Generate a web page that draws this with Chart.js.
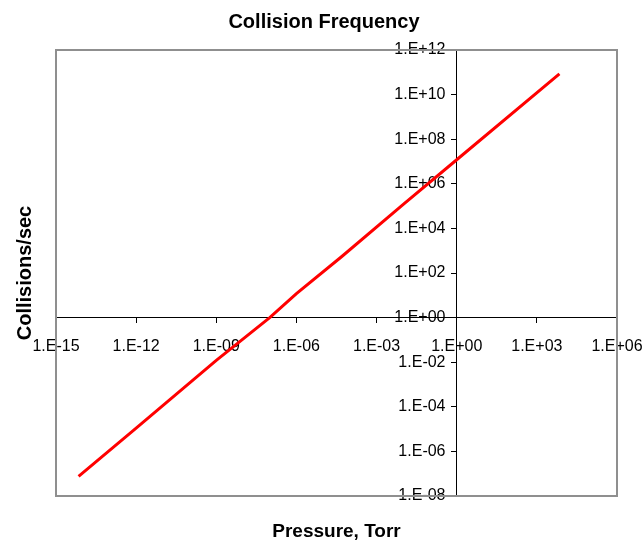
<!DOCTYPE html>
<html>
<head>
<meta charset="utf-8">
<title>Collision Frequency</title>
<script src="https://cdn.jsdelivr.net/npm/chart.js@4.4.1/dist/chart.umd.min.js"></script>
<style>
    html, body { margin: 0; padding: 0; background: #fff; }
    #wrap { width: 644px; height: 542px; position: relative; }
</style>
</head>
<body>
<div id="wrap"><canvas id="collisionChart"></canvas></div>
<script>
// values
const pressureTorr = [7e-15, 1e-12, 1e-9, 1e-7, 1e-6, 5e-5, 1e-2, 1, 7e3];
const collisionsPerSec = [7.6e-8, 1.1e-5, 1.2e-2, 1.0, 12, 5.5e2, 1.2e5, 1.2e7, 8.5e10];

const xTickValues = [1e-15, 1e-12, 1e-9, 1e-6, 1e-3, 1, 1e3, 1e6];
const xTickLabels = ["1.E-15", "1.E-12", "1.E-09", "1.E-06", "1.E-03", "1.E+00", "1.E+03", "1.E+06"];
const yTickValues = [1e-8, 1e-6, 1e-4, 1e-2, 1, 1e2, 1e4, 1e6, 1e8, 1e10, 1e12];
const yTickLabels = ["1.E-08", "1.E-06", "1.E-04", "1.E-02", "1.E+00", "1.E+02", "1.E+04", "1.E+06", "1.E+08", "1.E+10", "1.E+12"];

const chartTitle = "Collision Frequency";
const xTitle = "Pressure, Torr";
const yTitle = "Collisions/sec";

const FONT = "'Liberation Sans', Arial, sans-serif";

/**
 * Draws the grey plot frame and the chart / axis titles
 */
const frameAndTitles = {
    id: "frameAndTitles",
    beforeDatasetsDraw(chart) {
        const { ctx, chartArea: a } = chart;
        ctx.save();
        ctx.strokeStyle = "#8f8f8f";
        ctx.lineWidth = 2;
        ctx.strokeRect(a.left, a.top, a.right - a.left, a.bottom - a.top);
        ctx.restore();
    },
    afterDraw(chart) {
        const { ctx, chartArea: a } = chart;
        ctx.save();
        ctx.fillStyle = "#000";
        ctx.textAlign = "center";
        ctx.textBaseline = "middle";

        ctx.font = "bold 20px " + FONT;
        ctx.fillText(chartTitle, 324, 22);

        ctx.font = "bold 19px " + FONT;
        ctx.fillText(xTitle, (a.left + a.right) / 2, 532);

        ctx.translate(25, (a.top + a.bottom) / 2);
        ctx.rotate(-Math.PI / 2);
        ctx.font = "bold 20px " + FONT;
        ctx.fillText(yTitle, 0, 0);
        ctx.restore();
    }
};

function pickTicks(values) {
    return function (scale) {
        scale.ticks = values.map(v => ({ value: v }));
    };
}

function labelFor(values, labels, suffix) {
    return function (value) {
        const i = values.findIndex(v => Math.abs(Math.log10(v) - Math.log10(value)) < 1e-6);
        return i >= 0 ? labels[i] + suffix : "";
    };
}

// the end labels may hang outside the plot frame, as in the original
function noEdgePadding(scale) {
    scale.paddingLeft = 0;
    scale.paddingRight = 0;
    scale.paddingTop = 0;
    scale.paddingBottom = 0;
}

const ctx = document.getElementById("collisionChart").getContext("2d");
new Chart(ctx, {
    type: "line",
    data: {
        datasets: [{
            label: "Collisions/sec",
            data: pressureTorr.map((p, i) => ({ x: p, y: collisionsPerSec[i] })),
            borderColor: "#ff0000",
            borderWidth: 3,
            pointRadius: 0,
            tension: 0,
            fill: false
        }]
    },
    options: {
        responsive: true,
        maintainAspectRatio: false,
        animation: false,
        layout: { padding: { left: 56, right: 27, top: 50, bottom: 46 } },
        plugins: {
            legend: { display: false },
            tooltip: { enabled: false }
        },
        scales: {
            x: {
                type: "logarithmic",
                min: 1e-15,
                max: 1e6,
                position: { y: 1 },
                afterBuildTicks: pickTicks(xTickValues),
                afterFit: noEdgePadding,
                grid: { drawOnChartArea: false, drawTicks: true, tickLength: 5, tickColor: "#000" },
                border: { display: true, color: "#000", width: 1 },
                ticks: {
                    autoSkip: false,
                    maxRotation: 0,
                    padding: 14,
                    color: "#000",
                    font: { family: FONT, size: 16 },
                    callback: labelFor(xTickValues, xTickLabels, "")
                }
            },
            y: {
                type: "logarithmic",
                min: 1e-8,
                max: 1e12,
                position: { x: 1 },
                afterBuildTicks: pickTicks(yTickValues),
                afterFit: noEdgePadding,
                grid: { drawOnChartArea: false, drawTicks: true, tickLength: 5, tickColor: "#000" },
                border: { display: true, color: "#000", width: 1 },
                ticks: {
                    autoSkip: false,
                    color: "#000",
                    font: { family: FONT, size: 16 },
                    // Chart.js puts labels of a value-positioned y axis flush on the
                    // axis line, so trailing spaces leave room for the tick marks
                    callback: labelFor(yTickValues, yTickLabels, "\u2002\u2009")
                }
            }
        }
    },
    plugins: [frameAndTitles]
});
</script>
</body>
</html>
